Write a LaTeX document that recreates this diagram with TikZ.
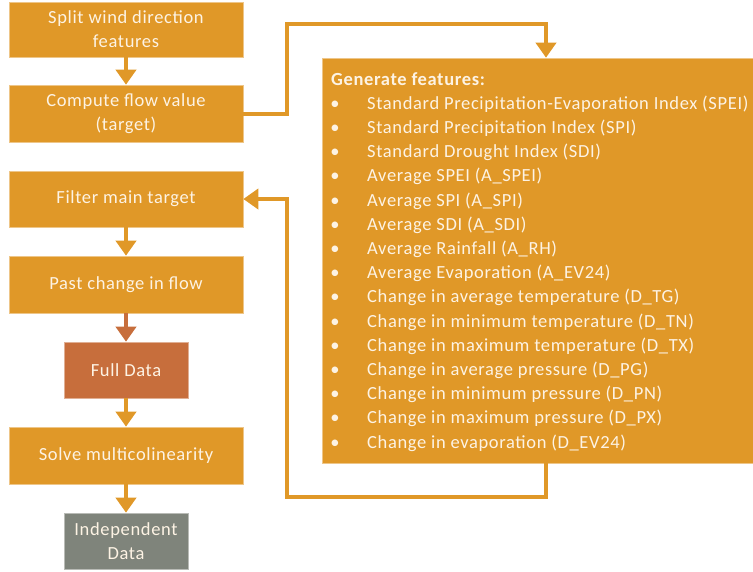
\documentclass[tikz,border=0pt]{standalone}
\usepackage{fontspec}
\setmainfont{Carlito}[LetterSpace=3.5]
\usetikzlibrary{arrows.meta}
\definecolor{boxorange}{RGB}{224,152,40}
\definecolor{boxbrown}{RGB}{199,110,60}
\definecolor{boxgray}{RGB}{127,132,123}
\definecolor{boxtext}{RGB}{253,243,228}
\tikzset{
    stepbox/.style={fill=boxorange,draw=boxorange!55!white,line width=0.6pt,text=boxtext,
        minimum width=234pt,minimum height=56pt,inner sep=0pt,align=center,
        font=\fontsize{18.5}{24}\selectfont},
    databox/.style={stepbox,minimum width=124pt},
    flowline/.style={boxorange,line width=4pt},
    featline/.style={anchor=base west,inner sep=0pt,text=boxtext,font=\fontsize{18.5}{24}\selectfont},
}
\begin{document}
\begin{tikzpicture}[x=1pt,y=-1pt,>={Triangle[width=20pt,length=15pt]}]
        \useasboundingbox (0,0) rectangle (753,571);
        % left column
        \node[stepbox,minimum height=55pt] (split) at (126,29.5) {Split wind direction\\features};
        \node[stepbox,minimum height=57pt] (flow) at (126,113.5) {Compute flow value\\(target)};
        \node[stepbox] (filter) at (126,199) {Filter main target};
        \node[stepbox,minimum height=57pt] (past) at (126,284.5) {Past change in flow};
        \node[databox,fill=boxbrown,draw=boxbrown!55!white] (full) at (126,370) {Full Data};
        \node[stepbox,minimum height=57pt] (solve) at (126,455.5) {Solve multicolinearity};
        \node[databox,fill=boxgray,draw=boxgray!55!white] (indep) at (126,541) {Independent\\Data};
        % feature box
        \node[stepbox,minimum width=448pt,minimum height=405pt] (gen) at (546,260.5) {};
        \node[featline,font=\fontsize{18.5}{24}\selectfont\bfseries] (genhead) at (331,85) {Generate features:};
        \foreach \feat [count=\i] in {Standard Precipitation-Evaporation Index (SPEI),
            Standard Precipitation Index (SPI),Standard Drought Index (SDI),
            Average SPEI (A\_SPEI),Average SPI (A\_SPI),Average SDI (A\_SDI),
            Average Rainfall (A\_RH),Average Evaporation (A\_EV24),
            Change in average temperature (D\_TG),Change in minimum temperature (D\_TN),
            Change in maximum temperature (D\_TX),Change in average pressure (D\_PG),
            Change in minimum pressure (D\_PN),Change in maximum pressure (D\_PX),
            Change in evaporation (D\_EV24)}
            {
                \node[featline,anchor=base] (dot\i) at (335,{85+24.2*\i}) {\textbullet};
                \node[featline] (feat\i) at (367,{85+24.2*\i}) {\feat};
            }
        % connectors
        \coordinate (topturn) at (287,24);
        \coordinate (botturn) at (287,497);
        \draw[flowline,->] (split) -- (flow);
        \draw[flowline,->] (flow.east) -| (topturn) -| (gen.north);
        \draw[flowline,->] (gen.south) |- (botturn) |- (filter.east);
        \draw[flowline,->] (filter) -- (past);
        \draw[flowline,boxbrown,->] (past) -- (full);
        \draw[flowline,->] (full) -- (solve);
        \draw[flowline,->] (solve) -- (indep);
    \end{tikzpicture}
\end{document}
